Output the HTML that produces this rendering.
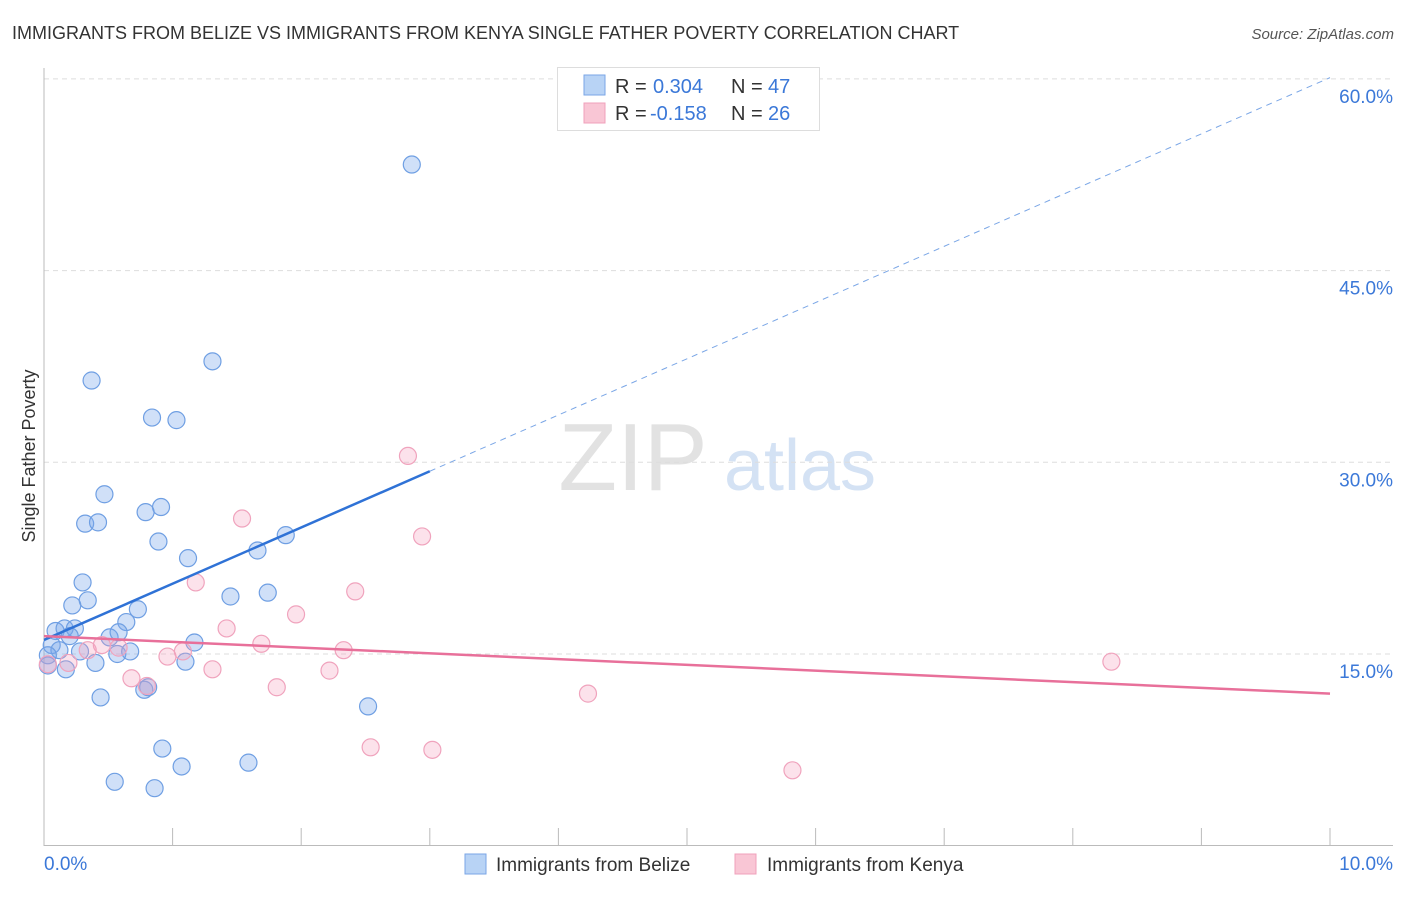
<!DOCTYPE html>
<html><head><meta charset="utf-8"><style>
body{margin:0;background:#fff;font-family:"Liberation Sans",sans-serif;}
svg text{font-family:"Liberation Sans",sans-serif;}
</style></head><body>
<svg id="chart" width="1406" height="892" xmlns="http://www.w3.org/2000/svg">
<text x="12" y="39" font-size="18" fill="#333">IMMIGRANTS FROM BELIZE VS IMMIGRANTS FROM KENYA SINGLE FATHER POVERTY CORRELATION CHART</text>
<text x="1394" y="39" font-size="15" fill="#555" font-style="italic" text-anchor="end">Source: ZipAtlas.com</text>
<text x="35" y="456" font-size="18" fill="#333" text-anchor="middle" transform="rotate(-90 35 456)">Single Father Poverty</text>
<g>
<text x="633" y="490" font-size="96" fill="#e2e2e2" font-family="Liberation Serif" text-anchor="middle">ZIP</text>
<text x="800" y="490" font-size="72" fill="#d4e2f4" text-anchor="middle">atlas</text>
</g>
<g id="grid"></g>
<g id="axes"></g>
<g id="points"></g>
<g id="lines"></g>
<g>
<rect x="557.5" y="67.5" width="262" height="63" fill="#fff" stroke="#ddd"/>
<rect x="584" y="75" width="21" height="20" fill="#b8d3f5" stroke="#7aa6e6"/>
<rect x="584" y="103" width="21" height="20" fill="#f9c6d5" stroke="#f0a0bb"/>
<text x="615" y="93" font-size="20" fill="#333">R =</text><text x="653" y="93" font-size="20" fill="#3b78d8">0.304</text>
<text x="731" y="93" font-size="20" fill="#333">N =</text><text x="768" y="93" font-size="20" fill="#3b78d8">47</text>
<text x="615" y="120" font-size="20" fill="#333">R =</text><text x="650" y="120" font-size="20" fill="#3b78d8">-0.158</text>
<text x="731" y="120" font-size="20" fill="#333">N =</text><text x="768" y="120" font-size="20" fill="#3b78d8">26</text>
</g>
<g>
<rect x="465" y="854" width="21" height="20" fill="#b8d3f5" stroke="#7aa6e6"/>
<text x="496" y="871" font-size="19" fill="#333">Immigrants from Belize</text>
<rect x="735" y="854" width="21" height="20" fill="#f9c6d5" stroke="#f0a0bb"/>
<text x="767" y="871" font-size="19" fill="#333">Immigrants from Kenya</text>
</g>
</svg>
<script>
const yTicks=[15,30,45,60];
const yTickLabels=["15.0%","30.0%","45.0%","60.0%"];
const xTicks=[0,1,2,3,4,5,6,7,8,9,10];
const xEndLabels=["0.0%","10.0%"];
const belizeX=[2.86,0.37,1.31,0.84,1.03,0.47,0.91,0.79,0.32,0.42,0.89,1.12,1.66,1.88,0.30,1.45,1.74,0.34,0.22,0.73,0.64,0.09,0.16,0.24,0.20,0.51,0.58,1.17,0.06,0.12,0.28,0.57,0.67,0.03,0.40,1.10,0.17,0.03,0.44,0.78,0.81,2.52,0.92,1.07,1.59,0.55,0.86];
const belizeY=[53.3,36.4,37.9,33.5,33.3,27.5,26.5,26.1,25.2,25.3,23.8,22.5,23.1,24.3,20.6,19.5,19.8,19.2,18.8,18.5,17.5,16.8,17.0,17.0,16.4,16.3,16.7,15.9,15.7,15.3,15.2,15.0,15.2,14.9,14.3,14.4,13.8,14.1,11.6,12.2,12.4,10.9,7.6,6.2,6.5,5.0,4.5];
const kenyaX=[2.83,2.94,1.54,1.18,2.42,1.96,1.42,1.69,2.33,1.08,0.96,0.45,0.34,0.58,0.19,1.31,2.22,0.68,0.80,1.81,4.23,8.30,2.54,3.02,5.82,0.03];
const kenyaY=[30.5,24.2,25.6,20.6,19.9,18.1,17.0,15.8,15.3,15.2,14.8,15.7,15.3,15.5,14.3,13.8,13.7,13.1,12.5,12.4,11.9,14.4,7.7,7.5,5.9,14.2];
const belizeTrend=[16.1,60.1];
const kenyaTrend=[16.4,11.9];
const NS="http://www.w3.org/2000/svg";
const X0=44,X1=1330,Y0=845.7,YS=12.78;
function sx(v){return X0+v*(X1-X0)/10;}
function sy(v){return Y0-v*YS;}
function mk(tag,attrs,parent,txt){const e=document.createElementNS(NS,tag);for(const k in attrs)e.setAttribute(k,attrs[k]);if(txt!==undefined)e.textContent=txt;document.getElementById(parent).appendChild(e);return e;}
yTicks.forEach((t,i)=>{
 let l=mk('line',{x1:44,x2:1393,y1:sy(t),y2:sy(t),stroke:'#ddd','stroke-dasharray':'5,4'},'grid');
 
 
 let tx=mk('text',{x:1393,y:sy(t)+24,'font-size':19,fill:'#3b78d8','text-anchor':'end'},'grid',yTickLabels[i]);
 
 
});
let ax=mk('line',{x1:44,x2:44,y1:68,y2:846,stroke:'#bbb'},'axes');


let bx=mk('line',{x1:44,x2:1393,y1:845.5,y2:845.5,stroke:'#bbb'},'axes');


xTicks.forEach(t=>{
 let l=mk('line',{x1:sx(t),x2:sx(t),y1:828,y2:846,stroke:'#bbb'},'axes');
 
 
});
let xl0=mk('text',{x:44,y:870,'font-size':19,fill:'#3b78d8'},'axes',xEndLabels[0]);


let xl1=mk('text',{x:1393,y:870,'font-size':19,fill:'#3b78d8','text-anchor':'end'},'axes',xEndLabels[1]);


belizeX.forEach((x,i)=>{
 let c=mk('circle',{cx:sx(x),cy:sy(belizeY[i]),r:8.5,fill:'rgba(120,165,235,0.35)',stroke:'#6f9fe3','stroke-width':1.2},'points');
 
 
});
kenyaX.forEach((x,i)=>{
 let c=mk('circle',{cx:sx(x),cy:sy(kenyaY[i]),r:8.5,fill:'rgba(245,160,190,0.3)',stroke:'#f0a3bd','stroke-width':1.2},'points');
 
 
});
function trendY(a,x){return a[0]+(a[1]-a[0])*x/10;}
let bs=mk('line',{x1:sx(0),y1:sy(trendY(belizeTrend,0)),x2:sx(3),y2:sy(trendY(belizeTrend,3)),stroke:'#2f72d6','stroke-width':2.5},'lines');


let bd=mk('line',{x1:sx(3),y1:sy(trendY(belizeTrend,3)),x2:sx(10),y2:sy(trendY(belizeTrend,10)),stroke:'#7aa6e6','stroke-width':1,'stroke-dasharray':'6,5'},'lines');


let kl=mk('line',{x1:sx(0),y1:sy(kenyaTrend[0]),x2:sx(10),y2:sy(kenyaTrend[1]),stroke:'#e8709a','stroke-width':2.5},'lines');


</script>
</body></html>
